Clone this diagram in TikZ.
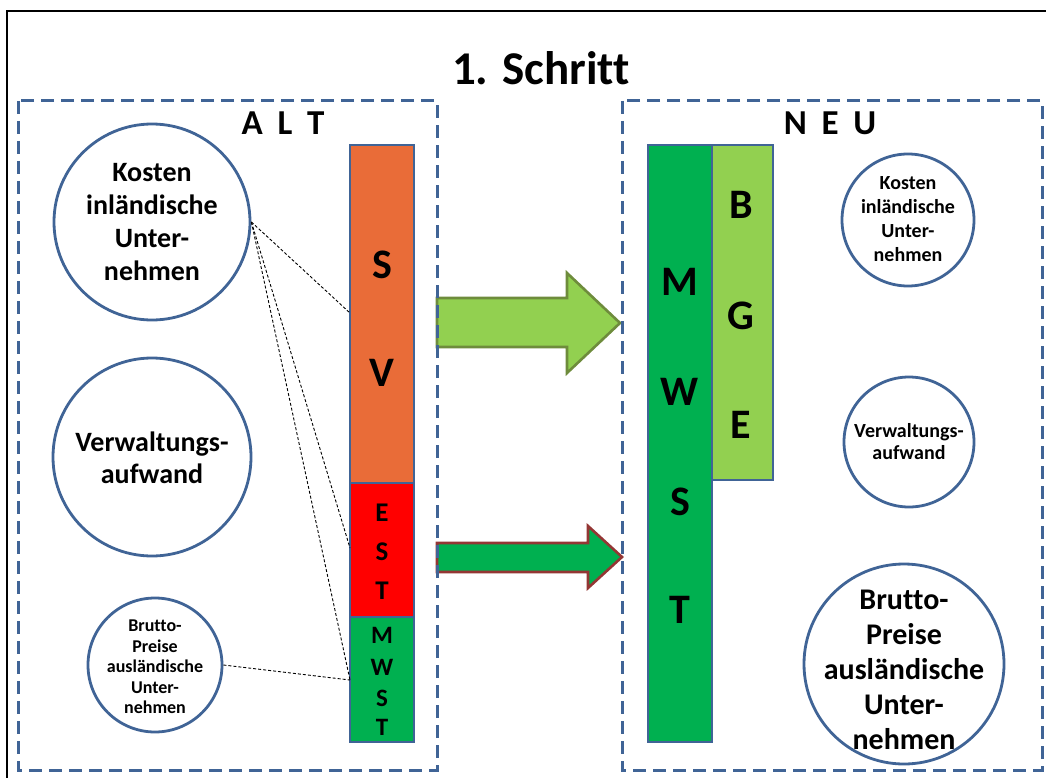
\documentclass[tikz,border=0pt]{standalone}
\usepackage{fontspec}
\setmainfont{Carlito}[Ligatures=NoCommon]
\usepackage{tikz}
\usetikzlibrary{positioning}

\definecolor{rahmenblau}{RGB}{64,100,150}
\definecolor{svorange}{RGB}{233,108,56}
\definecolor{estrot}{RGB}{255,0,0}
\definecolor{mwstgruen}{RGB}{0,176,80}
\definecolor{bgegruen}{RGB}{146,208,80}
\definecolor{olivrand}{RGB}{110,140,60}
\definecolor{rotrand}{RGB}{148,54,52}

\begin{document}
\begin{tikzpicture}[x=1pt,y=-1pt,
  kreis/.style={circle,draw=rahmenblau,line width=2.8pt,fill=white,inner sep=0pt},
  kreistext/.style={align=center,inner sep=0pt,font=\bfseries},
  balken/.style={rectangle,draw=rahmenblau,line width=1.5pt,inner sep=0pt,minimum width=64pt},
  buchstabe/.style={inner sep=0pt,font=\bfseries\fontsize{42}{42}\selectfont},
  bereich/.style={draw=rahmenblau,line width=3pt,dash pattern=on 13pt off 7pt},
  verbindung/.style={line width=0.9pt,dash pattern=on 3pt off 2pt}]

\useasboundingbox (0,0) rectangle (1046,778);

\draw[line width=1.8pt] (7,778) -- (7,11) -- (1046,11);

\draw[fill=bgegruen,draw=olivrand,line width=2.6pt] (437,298) -- (567,298) -- (567,273) -- (620,323) -- (567,373) -- (567,347) -- (437,347) -- cycle;
\draw[fill=mwstgruen,draw=rotrand,line width=2.6pt] (437,543) -- (588,543) -- (588,526) -- (622,557) -- (588,588) -- (588,572) -- (437,572) -- cycle;

\draw[bereich] (18,101) rectangle (437,770);
\draw[bereich] (622,101) rectangle (1042,770);

\node[anchor=base,font=\bfseries\fontsize{47}{47}\selectfont] (titel) at (541,85) {1. Schritt};
\node[anchor=base,font=\bfseries\fontsize{35}{35}\selectfont] (alt) at (283,135) {A\hspace{.42em}L\hspace{.42em}T};
\node[anchor=base,font=\bfseries\fontsize{35}{35}\selectfont] (neu) at (830,135) {N\hspace{.42em}E\hspace{.42em}U};

\node[balken,fill=svorange,minimum height=338pt] (sv) at (382,314) {};
\node[balken,fill=estrot,minimum height=134pt] (est) at (382,550) {};
\node[balken,fill=mwstgruen,minimum height=125pt] (mwstalt) at (382,679.5) {};

\node[buchstabe] (svs) at (382,265) {S};
\node[buchstabe] (svv) at (382,373) {V};
\node[buchstabe,font=\bfseries\fontsize{27}{27}\selectfont] (este) at (382,513) {E};
\node[buchstabe,font=\bfseries\fontsize{27}{27}\selectfont] (ests) at (382,552) {S};
\node[buchstabe,font=\bfseries\fontsize{27}{27}\selectfont] (estt) at (382,591) {T};
\node[buchstabe,font=\bfseries\fontsize{25}{25}\selectfont] (mwstaltm) at (382,635) {M};
\node[buchstabe,font=\bfseries\fontsize{25}{25}\selectfont] (mwstaltw) at (382,667) {W};
\node[buchstabe,font=\bfseries\fontsize{25}{25}\selectfont] (mwstalts) at (382,698) {S};
\node[buchstabe,font=\bfseries\fontsize{25}{25}\selectfont] (mwstaltt) at (382,727) {T};

\node[balken,fill=mwstgruen,minimum height=597pt] (mwstneu) at (680,443.5) {};
\node[balken,fill=bgegruen,minimum width=61pt,minimum height=335pt] (bge) at (742.5,312.5) {};

\node[buchstabe] (mwstneum) at (680,282) {M};
\node[buchstabe] (mwstneuw) at (680,392) {W};
\node[buchstabe] (mwstneus) at (680,502) {S};
\node[buchstabe] (mwstneut) at (680,610) {T};
\node[buchstabe] (bgeb) at (741,205) {B};
\node[buchstabe] (bgeg) at (741,316) {G};
\node[buchstabe] (bgee) at (741,425) {E};

\node[kreis,minimum size=196pt] (kostenalt) at (152,222) {};
\node[kreistext,font=\bfseries\fontsize{28}{33}\selectfont] (kostenalttext) at (kostenalt.center) {Kosten\\inländische\\Unter-\\nehmen};
\node[kreis,minimum size=198pt] (verwaltungalt) at (152,457) {};
\node[kreistext,font=\bfseries\fontsize{28}{32}\selectfont] (verwaltungalttext) at (152,458) {Verwaltungs-\\aufwand};
\node[kreis,minimum size=134pt] (bruttoalt) at (155,665) {};
\node[kreistext,font=\bfseries\fontsize{18}{20.5}\selectfont] (bruttoalttext) at (155,667) {Brutto-\\Preise\\ausländische\\Unter-\\nehmen};

\node[kreis,minimum size=132pt] (kostenneu) at (908,220) {};
\node[kreistext,font=\bfseries\fontsize{20}{24}\selectfont] (kostenneutext) at (908,219) {Kosten\\inländische\\Unter-\\nehmen};
\node[kreis,minimum size=130pt] (verwaltungneu) at (909,442) {};
\node[kreistext,font=\bfseries\fontsize{20}{22}\selectfont] (verwaltungneutext) at (909,442) {Verwaltungs-\\aufwand};
\node[kreis,minimum size=200pt] (bruttoneu) at (904,664) {};
\node[kreistext,font=\bfseries\fontsize{30}{35}\selectfont] (bruttoneutext) at (904,670) {Brutto-\\Preise\\ausländische\\Unter-\\nehmen};

\coordinate (svpunkt) at (350,313);
\coordinate (estpunkt) at (350,548);
\coordinate (mwstpunkt) at (350,680);

\draw[verbindung] (kostenalt.east) -- (svpunkt);
\draw[verbindung] (kostenalt.east) -- (estpunkt);
\draw[verbindung] (kostenalt.east) -- (mwstpunkt);
\draw[verbindung] (bruttoalt.east) -- (mwstpunkt);

\end{tikzpicture}
\end{document}
